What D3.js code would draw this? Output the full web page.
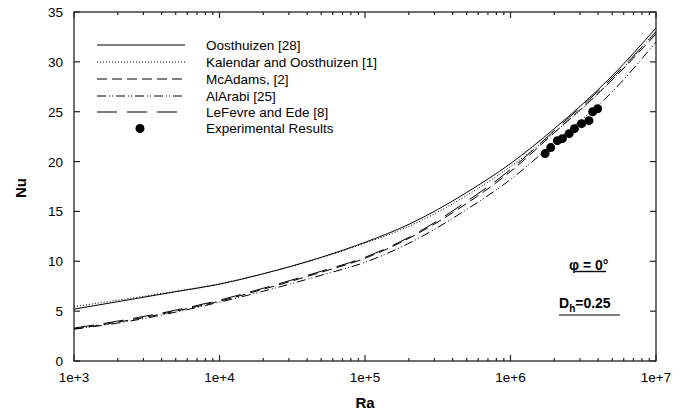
<!DOCTYPE html>
<html><head><meta charset="utf-8">
<script src="https://cdn.jsdelivr.net/npm/d3@7"></script>
<style>body{margin:0;background:#fff}svg{display:block;font-family:"Liberation Sans",Arial,sans-serif}</style>
</head><body><svg id="c" width="687" height="414"></svg>
<script>
const raValues = [1e3, 2e3, 5e3, 1e4, 2e4, 5e4, 1e5, 2e5, 5e5, 1e6, 2e6, 5e6, 1e7];
const oosthuizen = [5.2, 5.95, 6.95, 7.7, 8.75, 10.4, 11.9, 13.7, 16.9, 19.8, 23.3, 28.6, 33.4];
const kalendar   = [5.45, 6.1, 7.0, 7.75, 8.75, 10.35, 11.8, 13.5, 16.6, 19.5, 22.9, 28.2, 33.1];
const mcadams    = [3.2, 3.9, 5.0, 6.0, 7.2, 8.9, 10.3, 12.3, 15.8, 19.0, 22.9, 28.2, 32.8];
const alarabi    = [3.2, 3.8, 4.9, 5.9, 7.0, 8.6, 9.9, 11.8, 15.2, 18.2, 21.9, 27.0, 32.0];
const lefevre    = [3.3, 4.0, 5.1, 6.1, 7.3, 9.0, 10.4, 12.4, 16.0, 19.2, 23.1, 28.4, 33.0];
const expRa = [1.73e6, 1.89e6, 2.1e6, 2.27e6, 2.53e6, 2.75e6, 3.08e6, 3.46e6, 3.67e6, 3.97e6];
const expNu = [20.8, 21.4, 22.1, 22.3, 22.8, 23.3, 23.8, 24.1, 25.0, 25.3];
const seriesNames = ["Oosthuizen [28]", "Kalendar and Oosthuizen [1]", "McAdams, [2]", "AlArabi [25]", "LeFevre and Ede [8]"];
const expName = "Experimental Results";
const xTickLabels = ["1e+3", "1e+4", "1e+5", "1e+6", "1e+7"];
const yTicks = [0, 5, 10, 15, 20, 25, 30, 35];

const svg = d3.select("#c");
const L = 74, R = 656, T = 12, B = 361;
const x = d3.scaleLog().domain([1e3, 1e7]).range([L, R]);
const y = d3.scaleLinear().domain([0, 35]).range([B, T]);

const series = [
  {name: seriesNames[0], vals: oosthuizen, dash: null},
  {name: seriesNames[1], vals: kalendar, dash: "1,2"},
  {name: seriesNames[2], vals: mcadams, dash: "10,5"},
  {name: seriesNames[3], vals: alarabi, dash: "9,3,1,2,1,3"},
  {name: seriesNames[4], vals: lefevre, dash: "20,10"}
];

const line = d3.line().x(d => x(d[0])).y(d => y(d[1])).curve(d3.curveMonotoneX);
series.forEach(s => {
  svg.append("path").datum(raValues.map((r, i) => [r, s.vals[i]]))
    .attr("d", line).attr("fill", "none").attr("stroke", "#000")
    .attr("stroke-width", 1).attr("stroke-dasharray", s.dash);
});

svg.selectAll("circle.exp").data(expRa.map((r, i) => [r, expNu[i]])).enter()
  .append("circle").attr("class", "exp").attr("cx", d => x(d[0])).attr("cy", d => y(d[1]))
  .attr("r", 4.5).attr("fill", "#000");

// axes
const minor = [];
for (let e = 3; e < 7; e++) for (let k = 2; k <= 9; k++) minor.push(k * Math.pow(10, e));
const majors = [1e3, 1e4, 1e5, 1e6, 1e7];
const ax = svg.append("g").attr("stroke", "#222").attr("stroke-width", 1.2);
majors.forEach(v => {
  ax.append("line").attr("x1", x(v)).attr("x2", x(v)).attr("y1", B).attr("y2", B - 6);
  ax.append("line").attr("x1", x(v)).attr("x2", x(v)).attr("y1", T).attr("y2", T + 6);
});
minor.forEach(v => {
  ax.append("line").attr("x1", x(v)).attr("x2", x(v)).attr("y1", B).attr("y2", B - 3);
  ax.append("line").attr("x1", x(v)).attr("x2", x(v)).attr("y1", T).attr("y2", T + 3);
});
yTicks.forEach(v => {
  ax.append("line").attr("x1", L).attr("x2", L + 6).attr("y1", y(v)).attr("y2", y(v));
  ax.append("line").attr("x1", R).attr("x2", R - 6).attr("y1", y(v)).attr("y2", y(v));
});
svg.append("rect").attr("x", L).attr("y", T).attr("width", R - L).attr("height", B - T)
  .attr("fill", "none").attr("stroke", "#222").attr("stroke-width", 1.3);

svg.append("g").selectAll("text").data(yTicks).enter().append("text")
  .attr("x", 63).attr("y", d => y(d) + 5).attr("text-anchor", "end")
  .attr("font-size", 13.5).text(d => d);
svg.append("g").selectAll("text").data(majors).enter().append("text")
  .attr("x", d => x(d)).attr("y", 382).attr("text-anchor", "middle")
  .attr("font-size", 13.5).text((d, i) => xTickLabels[i]);

svg.append("text").attr("x", 365).attr("y", 408).attr("text-anchor", "middle")
  .attr("font-size", 15).attr("font-weight", "bold").text("Ra");
svg.append("text").attr("transform", "translate(26,188) rotate(-90)").attr("text-anchor", "middle")
  .attr("font-size", 15).attr("font-weight", "bold").text("Nu");

// legend
const lg = svg.append("g");
const rowY = [45, 62, 79, 96, 112];
series.forEach((s, i) => {
  lg.append("line").attr("x1", 97).attr("x2", 185).attr("y1", rowY[i]).attr("y2", rowY[i])
    .attr("stroke", "#000").attr("stroke-width", 1).attr("stroke-dasharray", s.dash);
  lg.append("text").attr("x", 206).attr("y", rowY[i] + 4.5).attr("font-size", 13.5).text(s.name);
});
lg.append("circle").attr("cx", 140).attr("cy", 128.5).attr("r", 4.5).attr("fill", "#000");
lg.append("text").attr("x", 206).attr("y", 133).attr("font-size", 13.5).text(expName);

// annotations
svg.append("text").attr("x", 569).attr("y", 270).attr("font-size", 14).attr("font-weight", "bold").text("φ = 0°");
svg.append("line").attr("x1", 575).attr("x2", 606).attr("y1", 271.5).attr("y2", 271.5).attr("stroke", "#000").attr("stroke-width", 1.4);
const dt = svg.append("text").attr("x", 559).attr("y", 308).attr("font-size", 14).attr("font-weight", "bold");
dt.append("tspan").text("D");
dt.append("tspan").attr("dy", 4).attr("font-size", 10).text("h");
dt.append("tspan").attr("dy", -4).text("=0.25");
svg.append("line").attr("x1", 559).attr("x2", 620).attr("y1", 315).attr("y2", 315).attr("stroke", "#000").attr("stroke-width", 1.2);
</script></body></html>
